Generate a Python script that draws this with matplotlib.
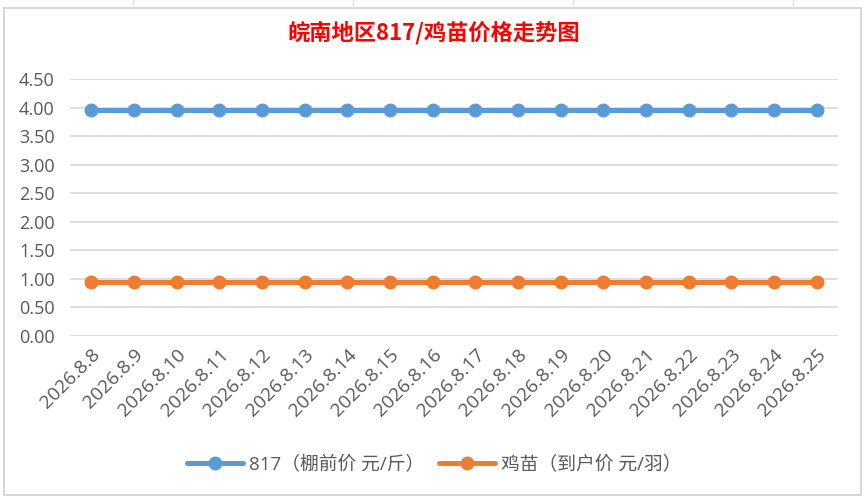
import matplotlib
matplotlib.use("Agg")
import matplotlib.pyplot as plt
from matplotlib.patches import Rectangle
from matplotlib.lines import Line2D

plt.rcParams['font.family'] = ['Open Sans', 'Noto Sans CJK SC', 'DejaVu Sans']

dates = ["2026.8.8", "2026.8.9", "2026.8.10", "2026.8.11", "2026.8.12", "2026.8.13",
         "2026.8.14", "2026.8.15", "2026.8.16", "2026.8.17", "2026.8.18", "2026.8.19",
         "2026.8.20", "2026.8.21", "2026.8.22", "2026.8.23", "2026.8.24", "2026.8.25"]
price_817 = [3.95] * 18
price_chick = [0.95] * 18
series_names = ["817（棚前价 元/斤）", "鸡苗（到户价 元/羽）"]
yticks = [0, 0.5, 1.0, 1.5, 2.0, 2.5, 3.0, 3.5, 4.0, 4.5]
title = "皖南地区817/鸡苗价格走势图"

fig = plt.figure(figsize=(8.68, 5.01), dpi=100)
fig.patch.set_facecolor("white")

# spreadsheet-like background lines outside chart
for xp in [133, 353, 573, 793]:
    fig.add_artist(Line2D([xp / 868, xp / 868], [0.985, 1.0],
                          color="#e3e3e3", lw=1, transform=fig.transFigure))
fig.add_artist(Rectangle((4 / 868, 6 / 501), 857 / 868, 487 / 501, transform=fig.transFigure,
                         facecolor="white", edgecolor="#d0d0d0", lw=1.2, zorder=0))

ax = fig.add_axes([70 / 868, 1 - 336 / 501, 768 / 868, 257 / 501])
ax.set_facecolor("none")
x = list(range(len(dates)))
c1 = "#5b9bd5"
c2 = "#ed7d31"
ax.plot(x, price_817, color=c1, lw=3.6, marker="o", markersize=9, label=series_names[0],
        solid_capstyle="round", zorder=3)
ax.plot(x, price_chick, color=c2, lw=3.6, marker="o", markersize=9, label=series_names[1],
        solid_capstyle="round", zorder=3)

ax.set_xlim(-0.5, len(dates) - 0.5)
ax.set_ylim(0, 4.5)
ax.set_yticks(yticks)
ax.set_yticklabels([f"{v:.2f}" for v in yticks])
ax.set_xticks(x)
ax.set_xticklabels(dates, rotation=45, ha="right", rotation_mode="anchor")
ax.grid(axis="y", color="#d9d9d9", lw=1.2)
ax.set_axisbelow(True)
for s in ax.spines.values():
    s.set_visible(False)
ax.tick_params(axis="both", length=0, colors="#595959", labelsize=13)
ax.tick_params(axis="x", pad=7, labelsize=13.8)
ax.tick_params(axis="y", pad=11)

fig.text(0.5, 1 - 33 / 501, title, ha="center", va="center", color="#ff0000",
         fontsize=16, fontweight="bold", family=['Noto Sans CJK SC'])

leg = fig.legend(loc="center", bbox_to_anchor=(0.5, 1 - 465 / 501), ncol=2, frameon=False,
                 fontsize=13.5, handlelength=3.0, columnspacing=0.8, handletextpad=0.3)
for t in leg.get_texts():
    t.set_color("#595959")

fig.savefig("out.png", dpi=100, facecolor="white")
